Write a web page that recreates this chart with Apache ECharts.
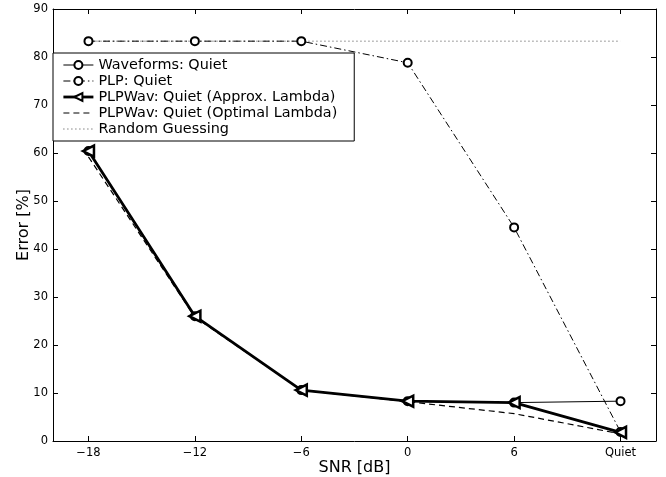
<!DOCTYPE html>
<html>
<head>
<meta charset="utf-8">
<script src="https://cdn.jsdelivr.net/npm/echarts@6/dist/echarts.min.js"></script>
<style>
  html, body { margin: 0; padding: 0; background: #fff; }
  #chart { width: 666px; height: 477px; }
</style>
</head>
<body>
<div id="chart"></div>
<script>
  // SNR conditions along the x axis
  var snrLabels = ['\u221218', '\u221212', '\u22126', '0', '6', 'Quiet'];
  // error rates in %
  var waveforms = [60.4, 26.0, 10.6, 8.3, 8.0, 8.3];
  var plp       = [83.3, 83.3, 83.3, 78.8, 44.5, 1.9];
  var approx    = [60.4, 26.0, 10.6, 8.3, 8.0, 1.8];
  var optimal   = [59.2, 25.8, 10.6, 8.2, 5.7, 1.5];
  var guessing  = [83.3, 83.3, 83.3, 83.3, 83.3, 83.3];

  var font = 'DejaVu Sans';
  var xPos = snrLabels.map(function (v, i) { return i; });

  function pairs(arr) {
    return arr.map(function (v, i) { return [i, v]; });
  }

  var chart = echarts.init(document.getElementById('chart'));

  var xBase = {
    type: 'value',
    min: -1 / 3,
    max: 5 + 1 / 3,
    splitLine: { show: false },
    axisLine: { show: true, onZero: false, lineStyle: { color: '#000', width: 1 } },
    axisTick: { show: true, inside: true, length: 5, customValues: xPos, lineStyle: { color: '#000' } }
  };
  var yBase = {
    type: 'value',
    min: 0,
    max: 90,
    interval: 10,
    splitLine: { show: false },
    axisLine: { show: true, onZero: false, lineStyle: { color: '#000', width: 1 } },
    axisTick: { show: true, inside: true, length: 5, lineStyle: { color: '#000' } }
  };

  var hideSymbol = { opacity: 0 };

  var option = {
    backgroundColor: '#fff',
    animation: false,
    grid: { left: 53, right: 10, top: 9, bottom: 36, outerBoundsMode: 'none', containLabel: false },
    legend: {
      orient: 'vertical',
      left: 53,
      top: 53,
      padding: [5, 17, 5, 9],
      itemGap: 2,
      itemWidth: 30,
      itemHeight: 10,
      backgroundColor: '#fff',
      borderColor: '#000',
      borderWidth: 1,
      textStyle: { fontFamily: font, fontSize: 14.4, color: '#000' },
      data: [
        { name: 'Waveforms: Quiet', lineStyle: { width: 1 } },
        { name: 'PLP: Quiet', lineStyle: { width: 1 } },
        { name: 'PLPWav: Quiet (Approx. Lambda)', lineStyle: { width: 2.8 } },
        { name: 'PLPWav: Quiet (Optimal Lambda)', itemStyle: hideSymbol, lineStyle: { width: 1.2 } },
        { name: 'Random Guessing', itemStyle: hideSymbol, lineStyle: { width: 1 } }
      ]
    },
    xAxis: [
      Object.assign({}, xBase, {
        position: 'bottom',
        name: 'SNR [dB]',
        nameLocation: 'middle',
        nameGap: 19,
        nameMoveOverlap: false,
        nameTextStyle: { fontFamily: font, fontSize: 16, color: '#000' },
        axisLabel: {
          customValues: xPos,
          margin: 6,
          fontFamily: font,
          fontSize: 11.5,
          color: '#000',
          formatter: function (v) { return snrLabels[Math.round(v)]; }
        }
      }),
      Object.assign({}, xBase, { position: 'top', axisLabel: { show: false } })
    ],
    yAxis: [
      Object.assign({}, yBase, {
        position: 'left',
        name: 'Error [%]',
        nameLocation: 'middle',
        nameGap: 21,
        nameMoveOverlap: false,
        nameTextStyle: { fontFamily: font, fontSize: 16, color: '#000' },
        axisLabel: {
          margin: 5,
          fontFamily: font,
          fontSize: 11.5,
          color: '#000'
        }
      }),
      Object.assign({}, yBase, { position: 'right', axisLabel: { show: false } })
    ],
    series: [
      {
        name: 'Random Guessing',
        type: 'line',
        data: pairs(guessing),
        symbol: 'none',
        color: '#444',
        lineStyle: { color: '#444', width: 1, type: [1, 3] },
        z: 1
      },
      {
        name: 'PLP: Quiet',
        type: 'line',
        data: pairs(plp),
        symbol: 'emptyCircle',
        symbolSize: 8,
        color: '#000',
        itemStyle: { color: '#000', borderWidth: 1 },
        lineStyle: { color: '#000', width: 1, type: [7, 3, 1.5, 3] },
        z: 2
      },
      {
        name: 'Waveforms: Quiet',
        type: 'line',
        data: pairs(waveforms),
        symbol: 'emptyCircle',
        symbolSize: 8,
        color: '#000',
        itemStyle: { color: '#000', borderWidth: 1 },
        lineStyle: { color: '#000', width: 1 },
        z: 3
      },
      {
        name: 'PLPWav: Quiet (Optimal Lambda)',
        type: 'line',
        data: pairs(optimal),
        symbol: 'none',
        color: '#000',
        lineStyle: { color: '#000', width: 1.2, type: [6, 4] },
        z: 4
      },
      {
        name: 'PLPWav: Quiet (Approx. Lambda)',
        type: 'line',
        data: pairs(approx),
        symbol: 'triangle',
        symbolRotate: 90,
        symbolSize: 11,
        color: '#000',
        itemStyle: { color: '#fff', borderColor: '#000', borderWidth: 2.5 },
        lineStyle: { color: '#000', width: 2.8 },
        z: 5
      }
    ]
  };

  chart.setOption(option);
</script>
</body>
</html>
